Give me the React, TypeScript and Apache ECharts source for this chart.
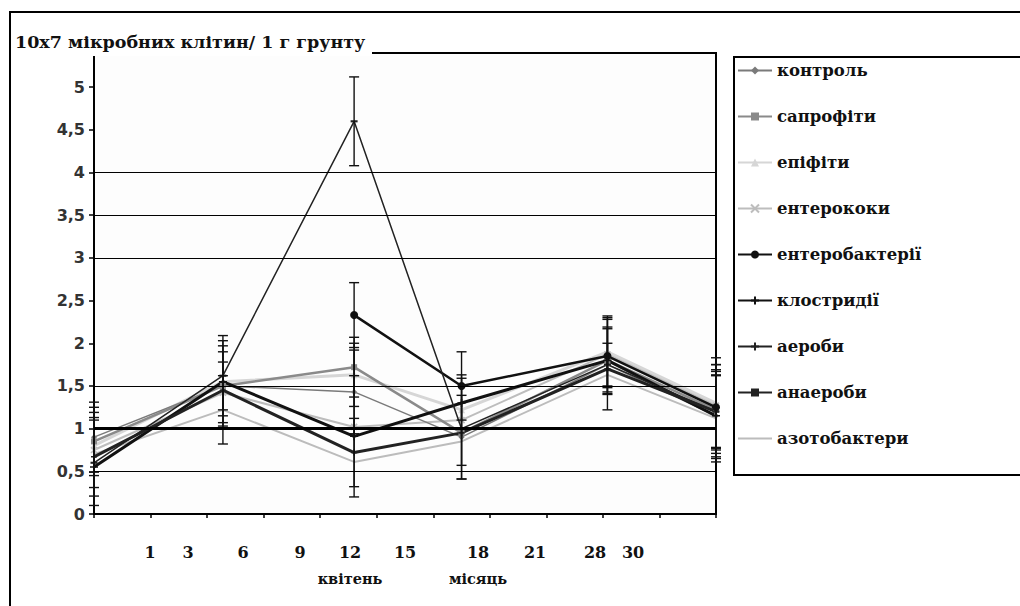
import React, { useEffect, useRef } from 'react';
import * as echarts from 'echarts';

// ---- data ----
const titleText = '10x7 мікробних клітин/ 1 г грунту';
const xPositions = [0, 2.28, 4.6, 6.5, 9.08, 11];
const xTickLabels = ['1', '3', '6', '9', '12', '15', '18', '21', '28', '30'];
const xSubLabels = ['квітень', 'місяць'];
const yTicks = [0, 0.5, 1, 1.5, 2, 2.5, 3, 3.5, 4, 4.5, 5];
const gridLevels = [0.5, 1, 1.5, 3, 3.5, 4];

const seriesNames = [
  'контроль',
  'сапрофіти',
  'епіфіти',
  'ентерококи',
  'ентеробактерії',
  'клостридії',
  'аероби',
  'анаероби',
  'азотобактери',
];

const kontrol = [0.9, 1.5, 1.43, 0.9, 1.75, 1.15];
const saprofity = [0.85, 1.5, 1.72, 0.95, 1.8, 1.22];
const epifity = [0.8, 1.55, 1.63, 1.22, 1.9, 1.3];
const enterokoky = [0.75, 1.42, 1.02, 1.1, 1.87, 1.27];
const enterobakterii = [null, null, 2.33, 1.5, 1.85, 1.25];
const klostrydii = [0.55, 1.55, 0.91, 1.3, 1.8, 1.15];
const aeroby = [0.67, 1.45, 0.72, 0.95, 1.7, 1.2];
const anaeroby = [0.6, 1.62, 4.6, 1.0, 1.75, 1.2];
const azotobakterii = [0.7, 1.22, 0.61, 0.85, 1.63, 1.12];

// error bar half-widths (0 = none)
const errKontrol = [0.41, 0.47, 0.49, 0.49, 0.25, 0.48];
const errSaprofity = [0.4, 0.28, 0.35, 0, 0.39, 0.45];
const errEpifity = [0, 0, 0.37, 0, 0.42, 0];
const errEnterokoky = [0.44, 0, 0, 0.53, 0, 0.56];
const errEnterobakterii = [0, 0, 0.38, 0.4, 0.45, 0.5];
const errKlostrydii = [0, 0.48, 0.71, 0, 0.37, 0.54];
const errAeroby = [0.46, 0.45, 0.4, 0, 0, 0.42];
const errAnaeroby = [0.5, 0.47, 0.52, 0.59, 0.53, 0.55];
const errAzotobakterii = [0, 0.4, 0, 0, 0, 0];

const allValues = [kontrol, saprofity, epifity, enterokoky, enterobakterii, klostrydii, aeroby, anaeroby, azotobakterii];
const allErrors = [errKontrol, errSaprofity, errEpifity, errEnterokoky, errEnterobakterii, errKlostrydii, errAeroby, errAnaeroby, errAzotobakterii];

// ---- styles ----
const xPath = 'path://M0,0L10,10M10,0L0,10';
const plusPath = 'path://M5,0L5,10M0,5L10,5';
const dashPath = 'path://M0,0L10,0L10,3L0,3Z';
const seriesStyles: any[] = [
  { color: '#7a7a7a', width: 1.5, symbol: 'diamond', size: 6, z: 3 },
  { color: '#8a8a8a', width: 2.5, symbol: 'rect', size: 6, z: 3 },
  { color: '#d6d6d6', width: 3, symbol: 'triangle', size: 7, z: 2 },
  { color: '#bdbdbd', width: 2, symbol: xPath, size: 6, stroke: true, z: 2 },
  { color: '#111111', width: 2.5, symbol: 'circle', size: 8, z: 3 },
  { color: '#111111', width: 3, symbol: plusPath, size: 8, stroke: true, z: 3 },
  { color: '#222222', width: 3, symbol: plusPath, size: 6, stroke: true, z: 3 },
  { color: '#222222', width: 1.5, symbol: dashPath, size: 7, z: 3 },
  { color: '#bcbcbc', width: 2, symbol: 'none', size: 0, z: 2, noLegendSymbol: true },
];
const xLabelPx = [150, 188, 243, 300, 350, 405, 478, 535, 595, 633];
const xSubLabelPx = [350, 478];

export default function App() {
  const ref = useRef<HTMLDivElement>(null);
  useEffect(() => {
    const chart = echarts.init(ref.current as HTMLDivElement, null, { renderer: 'svg' });

    const lineSeries = seriesNames.map((name, i) => {
      const st = seriesStyles[i];
      return {
        name,
        type: 'line',
        z: st.z,
        data: allValues[i].map((v, j) => [xPositions[j], v == null ? '-' : v]),
        symbol: st.symbol,
        symbolSize: st.size,
        symbolKeepAspect: true,
        showSymbol: true,
        connectNulls: false,
        lineStyle: { color: st.color, width: st.width },
        itemStyle: st.stroke
          ? { color: st.color, borderColor: st.color, borderWidth: 1.6 }
          : { color: st.color },
        emphasis: { disabled: true },
      };
    });

    const errData: number[][] = [];
    allValues.forEach((vals, i) => {
      vals.forEach((v, j) => {
        const e = allErrors[i][j];
        if (v != null && e > 0) errData.push([xPositions[j], v - e, v + e]);
      });
    });

    const errorSeries = {
      name: 'errors',
      type: 'custom',
      z: 4,
      silent: true,
      data: errData,
      encode: { x: 0, y: [1, 2] },
      renderItem: (params: any, api: any) => {
        const x = api.value(0);
        const lo = api.value(1);
        const hi = api.value(2);
        const top = api.coord([x, hi]);
        const bot = api.coord([x, lo]);
        const w = 5;
        const style = { stroke: '#111', lineWidth: 1.4 };
        return {
          type: 'group',
          children: [
            { type: 'line', shape: { x1: top[0], y1: top[1], x2: bot[0], y2: bot[1] }, style },
            { type: 'line', shape: { x1: top[0] - w, y1: top[1], x2: top[0] + w, y2: top[1] }, style },
            { type: 'line', shape: { x1: bot[0] - w, y1: bot[1], x2: bot[0] + w, y2: bot[1] }, style },
          ],
        };
      },
    };

    const gridSeries = {
      name: 'grid',
      type: 'line',
      data: [],
      silent: true,
      z: 1,
      markLine: {
        silent: true,
        symbol: 'none',
        label: { show: false },
        data: gridLevels.map((v) => ({
          yAxis: v,
          lineStyle: { color: '#000', type: 'solid', width: v === 1 ? 3 : 1.2 },
        })),
      },
    };

    const serifBold = '"DejaVu Serif", "Liberation Serif", serif';

    const graphics: any[] = [
      {
        type: 'rect',
        z: 50,
        silent: true,
        shape: { x: 10, y: 12, width: 1040, height: 640 },
        style: { fill: 'none', stroke: '#000', lineWidth: 2 },
      },
      {
        type: 'rect',
        z: 50,
        silent: true,
        shape: { x: 734, y: 57, width: 320, height: 418 },
        style: { fill: 'none', stroke: '#000', lineWidth: 2 },
      },
      {
        type: 'rect',
        z: 60,
        silent: true,
        shape: { x: 12, y: 29, width: 360, height: 27 },
        style: { fill: '#fff' },
      },
      {
        type: 'text',
        z: 61,
        silent: true,
        x: 15,
        y: 42,
        style: {
          text: titleText,
          fill: '#111',
          fontFamily: serifBold,
          fontWeight: 'bold',
          fontSize: 17.5,
          verticalAlign: 'middle',
          align: 'left',
        },
      },
      ...xTickLabels.map((t, i) => ({
        type: 'text',
        z: 61,
        silent: true,
        x: xLabelPx[i],
        y: 552,
        style: {
          text: t,
          fill: '#111',
          fontFamily: serifBold,
          fontWeight: 'bold',
          fontSize: 16,
          align: 'center',
          verticalAlign: 'middle',
        },
      })),
      ...xSubLabels.map((t, i) => ({
        type: 'text',
        z: 61,
        silent: true,
        x: xSubLabelPx[i],
        y: 578,
        style: {
          text: t,
          fill: '#111',
          fontFamily: serifBold,
          fontWeight: 'bold',
          fontSize: 14.5,
          align: 'center',
          verticalAlign: 'middle',
        },
      })),
    ];

    const option: any = {
      animation: false,
      backgroundColor: '#ffffff',
      grid: {
        left: 94,
        right: 304,
        top: 53,
        bottom: 92,
        show: true,
        backgroundColor: '#fdfdfd',
        borderColor: '#000',
        borderWidth: 2,
      },
      xAxis: {
        type: 'value',
        min: 0,
        max: 11,
        interval: 1,
        axisLine: { show: true, lineStyle: { color: '#000', width: 2 } },
        axisTick: { show: true, length: 4, lineStyle: { color: '#000', width: 1.5 } },
        axisLabel: { show: false },
        splitLine: { show: false },
      },
      yAxis: {
        type: 'value',
        min: 0,
        max: 5.4,
        interval: 0.5,
        axisLine: { show: true, lineStyle: { color: '#000', width: 2 } },
        axisTick: { show: true, length: 5, customValues: yTicks, lineStyle: { color: '#000', width: 1.5 } },
        axisLabel: {
          show: true,
          customValues: yTicks,
          margin: 9,
          color: '#333',
          fontFamily: '"DejaVu Sans", sans-serif',
          fontWeight: 'bold',
          fontSize: 16,
          formatter: (v: number) => String(v).replace('.', ','),
        },
        splitLine: { show: false },
      },
      legend: {
        data: seriesNames.map((name, i) =>
          seriesStyles[i].noLegendSymbol ? { name, itemStyle: { opacity: 0 } } : { name }
        ),
        orient: 'vertical',
        left: 737,
        top: 62,
        itemWidth: 34,
        itemHeight: 10,
        itemGap: 29,
        padding: 0,
        selectedMode: false,
        textStyle: {
          fontFamily: serifBold,
          fontWeight: 'bold',
          fontSize: 16.5,
          color: '#111',
        },
      },
      graphic: graphics,
      series: [gridSeries, ...lineSeries, errorSeries],
    };

    chart.setOption(option);
    return () => chart.dispose();
  }, []);

  return (
    <div
      ref={ref}
      style={{ position: 'fixed', left: 0, top: 0, width: 1020, height: 606, background: '#fff' }}
    />
  );
}
